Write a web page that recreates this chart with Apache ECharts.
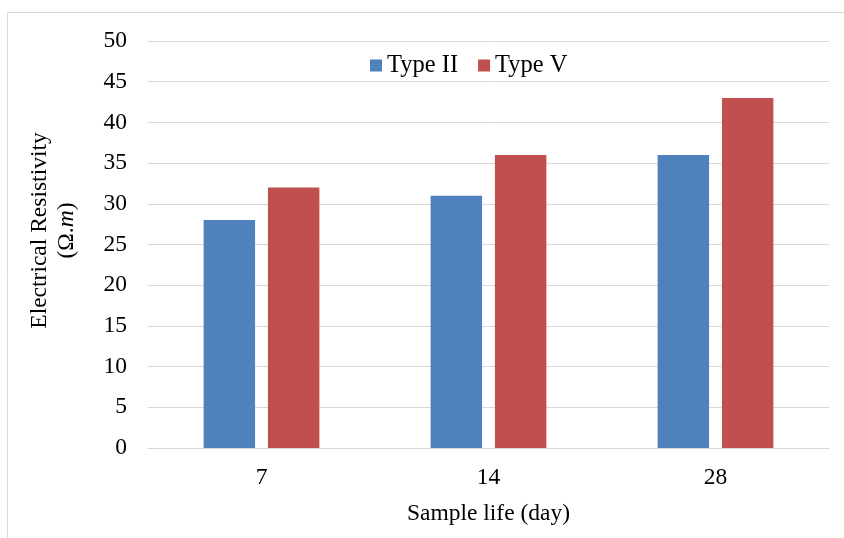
<!DOCTYPE html>
<html>
<head>
<meta charset="utf-8">
<script src="https://cdn.jsdelivr.net/npm/echarts@6/dist/echarts.min.js"></script>
<style>html,body{margin:0;padding:0;background:#fff;}#c{width:844px;height:538px;}</style>
</head>
<body>
<div id="c"></div>
<script>
const categories = ['7', '14', '28'];
const typeII = [28, 31, 36];
const typeV = [32, 36, 43];
const yTicks = { min: 0, max: 50, interval: 5 };

const FONT = '"Liberation Serif", "Times New Roman", serif';
const chart = echarts.init(document.getElementById('c'), null, { renderer: 'canvas' });
chart.setOption({
  animation: false,
  backgroundColor: '#ffffff',
  textStyle: { fontFamily: FONT, color: '#000' },
  graphic: [
    { type: 'line', shape: { x1: 7.5, y1: 12.5, x2: 844, y2: 12.5 }, style: { stroke: '#d9d9d9', lineWidth: 1 } },
    { type: 'line', shape: { x1: 7.5, y1: 12.5, x2: 7.5, y2: 538 }, style: { stroke: '#d9d9d9', lineWidth: 1 } }
  ],
  legend: {
    left: 370, top: 53, padding: 0,
    itemWidth: 12, itemHeight: 12, itemGap: 20,
    icon: 'rect',
    textStyle: { fontFamily: FONT, fontSize: 24.5, color: '#000', padding: [0, 0, 0, 0] },
    data: ['Type II', 'Type V']
  },
  grid: { left: 148, right: 15, top: 41, bottom: 90, containLabel: false },
  xAxis: {
    type: 'category',
    data: categories,
    name: 'Sample life (day)',
    nameLocation: 'middle',
    nameGap: 54,
    nameTextStyle: { fontFamily: FONT, fontSize: 23.5, color: '#000' },
    axisLine: { show: true, lineStyle: { color: '#d9d9d9', width: 1 } },
    axisTick: { show: false },
    axisLabel: { fontFamily: FONT, fontSize: 23.5, color: '#000', margin: 18 }
  },
  yAxis: {
    type: 'value',
    min: yTicks.min, max: yTicks.max, interval: yTicks.interval,
    name: '{a|Electrical Resistivity}\n{a|(Ω.}{b|m}{a|)}',
    nameLocation: 'middle',
    nameGap: 68,
    nameRotate: 90,
    nameTextStyle: {
      fontFamily: FONT, fontSize: 23.5, color: '#000', lineHeight: 27,
      padding: [0, 0, 0, 28],
      rich: {
        a: { fontFamily: FONT, fontSize: 23.5, color: '#000', lineHeight: 27 },
        b: { fontFamily: FONT, fontSize: 23.5, color: '#000', fontStyle: 'italic', lineHeight: 27 }
      }
    },
    axisLine: { show: false },
    axisTick: { show: false },
    axisLabel: { fontFamily: FONT, fontSize: 23.5, color: '#000', margin: 21 },
    splitLine: { show: true, lineStyle: { color: '#d9d9d9', width: 1 } }
  },
  series: [
    { name: 'Type II', type: 'bar', data: typeII, itemStyle: { color: '#4f81bd' }, barGap: '25%', barCategoryGap: '49%' },
    { name: 'Type V', type: 'bar', data: typeV, itemStyle: { color: '#c0504d' }, barGap: '25%', barCategoryGap: '49%' }
  ]
});
</script>
</body>
</html>
